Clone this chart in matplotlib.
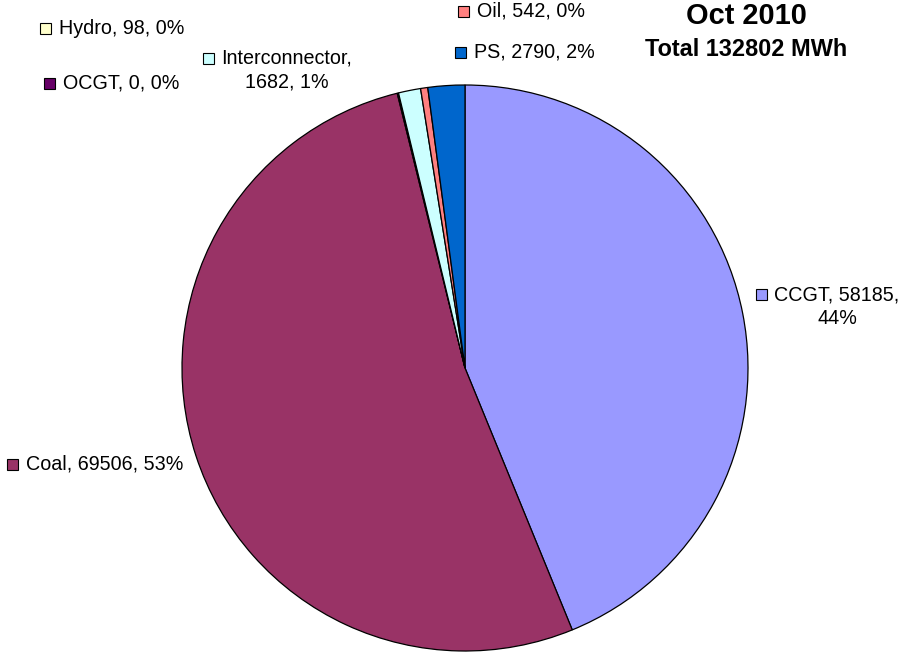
import matplotlib
matplotlib.use("Agg")
import matplotlib.pyplot as plt
from matplotlib.patches import Rectangle

categories = ["CCGT", "Coal", "Hydro", "OCGT", "Interconnector", "Oil", "PS"]
values = [58185, 69506, 98, 0, 1682, 542, 2790]
percents = ["44%", "53%", "0%", "0%", "1%", "0%", "2%"]
colors = ["#9999FF", "#993366", "#FFFFCC", "#660066", "#CCFFFF", "#FF8080", "#0066CC"]
title = "Oct 2010"
subtitle = "Total 132802 MWh"

W, H = 903, 653
fig = plt.figure(figsize=(W / 100, H / 100), dpi=100)
ax = fig.add_axes([0, 0, 1, 1])

cx, cy, r = 465, H - 368, 283
ax.pie(values, colors=colors, startangle=90, counterclock=False,
       center=(cx, cy), radius=r, frame=True,
       wedgeprops=dict(edgecolor="black", linewidth=0.9))
ax.set_xlim(0, W)
ax.set_ylim(0, H)
ax.set_aspect("equal")
ax.axis("off")

font = "Liberation Sans"
fs = 14.2

# label layout: (square left x, first-line center y in px from top, text x, ha, text)
labels = {
    "Hydro": (40, 28, 59, "left", f"Hydro, {values[2]}, {percents[2]}"),
    "OCGT": (44, 83, 63, "left", f"OCGT, {values[3]}, {percents[3]}"),
    "Interconnector": (203, 58, 287, "center", f"Interconnector,\n{values[4]}, {percents[4]}"),
    "Oil": (458, 11, 477, "left", f"Oil, {values[5]}, {percents[5]}"),
    "PS": (455, 52, 474, "left", f"PS, {values[6]}, {percents[6]}"),
    "CCGT": (756, 295, 837, "center", f"CCGT, {values[0]},\n{percents[0]}"),
    "Coal": (7, 464, 26, "left", f"Coal, {values[1]}, {percents[1]}"),
}
line_h = 24.5
for i, cat in enumerate(categories):
    sx, sy, tx, ha, txt = labels[cat]
    ax.add_patch(Rectangle((sx, H - sy - 5.5), 11, 11, facecolor=colors[i],
                           edgecolor="black", linewidth=0.8))
    nlines = txt.count("\n") + 1
    ty = H - sy - (nlines - 1) * line_h / 2
    ax.text(tx, ty, txt, ha=ha, va="center", fontsize=fs, family=font,
            multialignment="center", linespacing=1.3)

ax.text(746, H - 16, title, ha="center", va="center", fontsize=20.9,
        fontweight="bold", family=font)
ax.text(746, H - 49, subtitle, ha="center", va="center", fontsize=16.9,
        fontweight="bold", family=font)

fig.savefig("out.png", dpi=100)
